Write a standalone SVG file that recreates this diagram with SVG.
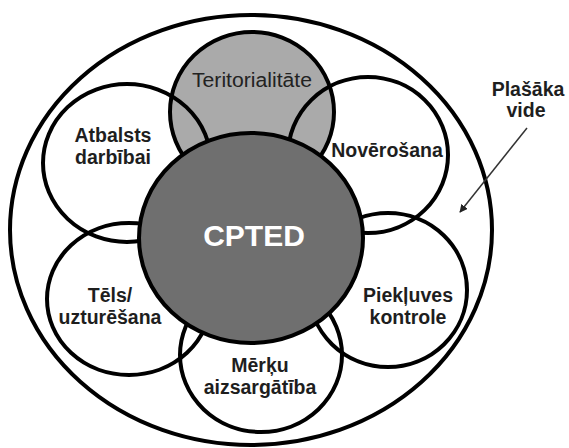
<svg xmlns="http://www.w3.org/2000/svg" width="569" height="448" viewBox="0 0 569 448">
<style>
.ring{fill:none;stroke:#000;stroke-width:4}
.lbl{font-family:"Liberation Sans",Arial,sans-serif;font-weight:bold;font-size:19.5px;fill:#1e1e1e;text-anchor:middle}
</style>
<defs>
<marker id="ah" viewBox="0 0 10 10" refX="9" refY="5" markerWidth="8" markerHeight="8" orient="auto" markerUnits="userSpaceOnUse">
<path d="M0,0 L10,5 L0,10 z" fill="#222"/>
</marker>
</defs>
<rect width="569" height="448" fill="#fff"/>
<g id="outer"><ellipse class="ring" cx="251" cy="230" rx="241" ry="215" fill="#fff"/></g>
<g id="teritorialitate">
<ellipse cx="252" cy="112" rx="82" ry="80" fill="#aaaaaa" stroke="#000" stroke-width="4"/>
</g>
<g id="atbalsts"><ellipse class="ring" cx="127" cy="163" rx="84" ry="79"/></g>
<g id="noverosana"><ellipse class="ring" cx="368" cy="155" rx="80" ry="78"/></g>
<g id="tels"><ellipse class="ring" cx="129" cy="299" rx="82" ry="76"/></g>
<g id="piekluves"><ellipse class="ring" cx="388" cy="290" rx="79" ry="77"/></g>
<g id="merku"><ellipse class="ring" cx="261" cy="355" rx="81" ry="77"/></g>
<g id="cpted">
<ellipse cx="251" cy="238" rx="112" ry="105" fill="#6f6f6f" stroke="#000" stroke-width="4"/>
<text x="254" y="246" font-family="Liberation Sans, Arial, sans-serif" font-weight="bold" font-size="30" fill="#fff" text-anchor="middle">CPTED</text>
</g>
<g id="labels">
<text x="252" y="87" font-family="Liberation Sans, Arial, sans-serif" font-size="19.5" fill="#222" text-anchor="middle" textLength="120" lengthAdjust="spacingAndGlyphs">Teritorialitāte</text>
<text class="lbl" x="113" y="142">Atbalsts</text>
<text class="lbl" x="113" y="164">darbībai</text>
<text class="lbl" x="387" y="157">Novērošana</text>
<text class="lbl" x="110" y="302">Tēls/</text>
<text class="lbl" x="110" y="324">uzturēšana</text>
<text class="lbl" x="408" y="302">Piekļuves</text>
<text class="lbl" x="408" y="324">kontrole</text>
<text class="lbl" x="260" y="372">Mērķu</text>
<text class="lbl" x="260" y="394">aizsargātība</text>
<text class="lbl" x="528" y="96">Plašāka</text>
<text class="lbl" x="526" y="117">vide</text>
</g>
<g id="connectors">
<line x1="527" y1="128" x2="460" y2="212" stroke="#333" stroke-width="1.5" marker-end="url(#ah)"/>
</g>
</svg>
